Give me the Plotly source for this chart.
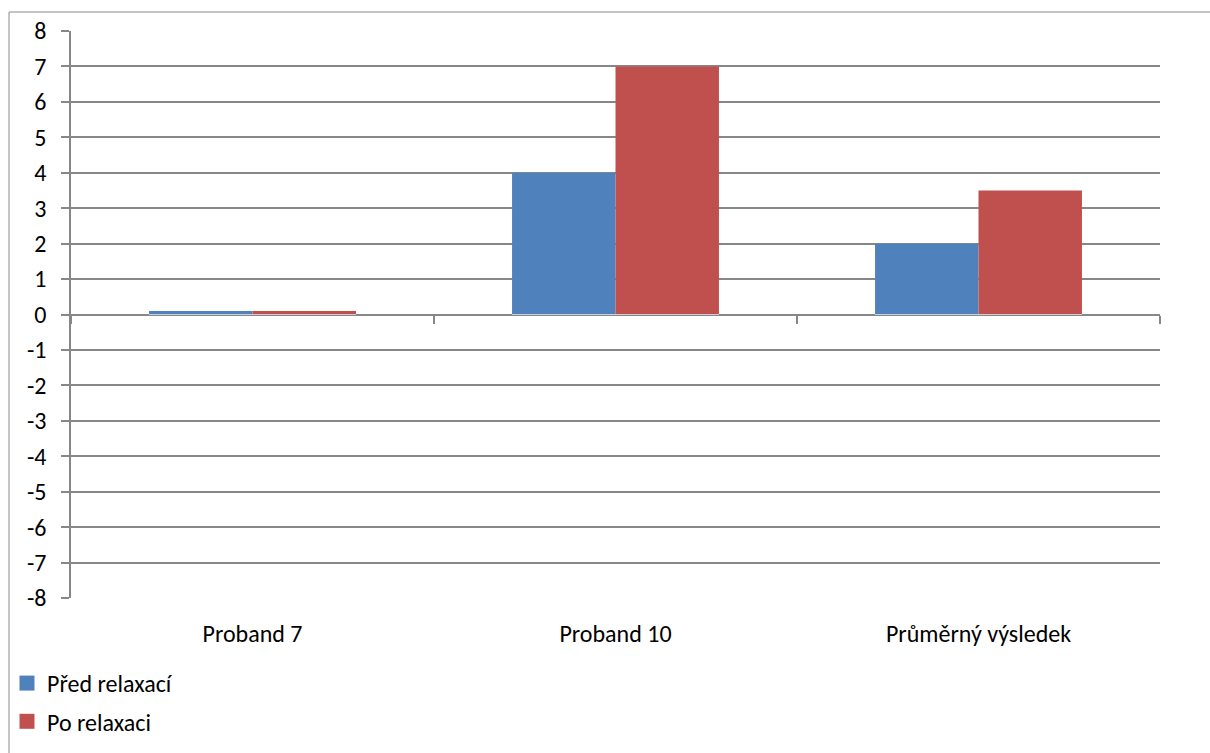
import plotly.graph_objects as go

categories = ["Proband 7", "Proband 10", "Průměrný výsledek"]
pred = [0.1, 4, 2]
po = [0.1, 7, 3.5]
series_names = ["Před relaxací", "Po relaxaci"]
colors = ["#4F81BD", "#C0504D"]
yticks = list(range(-8, 9))

W, H = 1210, 753
L, R, T, B = 71, 50, 31, 155
pw, ph = W - L - R, H - T - B

FONT = "Carlito, Lato, 'Open Sans', sans-serif"
GRID = "#878787"
FS = 24

fig = go.Figure()
fig.add_bar(x=categories, y=pred, name=series_names[0], marker_color=colors[0],
            marker_line_width=0, showlegend=False)
fig.add_bar(x=categories, y=po, name=series_names[1], marker_color=colors[1],
            marker_line_width=0, showlegend=False)

# legend entries with larger square swatches
for i, (nm, c) in enumerate(zip(series_names, colors)):
    fig.add_scatter(x=[None], y=[None], mode="markers", name=nm,
                    marker=dict(symbol="square", size=15, color=c),
                    legendgroup=f"g{i}", showlegend=True)

zero_frac = (0 - (-8)) / 16

fig.update_layout(
    width=W, height=H,
    margin=dict(l=L, r=R, t=T, b=B, autoexpand=False),
    paper_bgcolor="white", plot_bgcolor="white",
    barmode="group", bargap=0.43, bargroupgap=0,
    font=dict(family=FONT, size=FS, color="black"),
    showlegend=True,
    legend=dict(orientation="v", x=-(L - 7) / pw, xanchor="left",
                y=-(63) / ph, yanchor="top",
                font=dict(size=FS), tracegroupgap=4,
                bgcolor="rgba(0,0,0,0)", itemwidth=30),
    xaxis=dict(type="category", showgrid=False, showline=False, ticks="",
               tickfont=dict(size=FS), ticklabelstandoff=19),
    xaxis2=dict(type="category", overlaying="x", anchor="free", position=zero_frac,
                side="bottom", matches="x", showticklabels=False, showgrid=False,
                showline=False, ticks="outside", ticklen=8, tickcolor=GRID,
                tickwidth=1.5, tickson="boundaries"),
    yaxis=dict(range=[-8, 8], tickvals=yticks, ticktext=[str(v) for v in yticks],
               showgrid=True, gridcolor=GRID, gridwidth=1.5,
               zeroline=True, zerolinecolor=GRID, zerolinewidth=1.5,
               showline=True, linecolor=GRID, linewidth=1.5,
               ticks="outside", ticklen=8, tickcolor=GRID, tickwidth=1.5,
               tickfont=dict(size=FS), ticklabelstandoff=10),
)

# invisible trace to activate xaxis2
fig.add_bar(x=categories, y=[0, 0, 0], xaxis="x2", showlegend=False,
            hoverinfo="skip", marker_color="rgba(0,0,0,0)")

# outer chart border (top and left visible)
bx = (9 - L) / pw
by = (H - B - 12) / ph
fig.add_shape(type="line", xref="paper", yref="paper", x0=bx, x1=(W - L) / pw + 0.01,
              y0=by, y1=by, line=dict(color="#8a8a8a", width=1))
fig.add_shape(type="line", xref="paper", yref="paper", x0=bx, x1=bx,
              y0=by, y1=-(B + 5) / ph, line=dict(color="#8a8a8a", width=1))

fig.write_html("out.html")
